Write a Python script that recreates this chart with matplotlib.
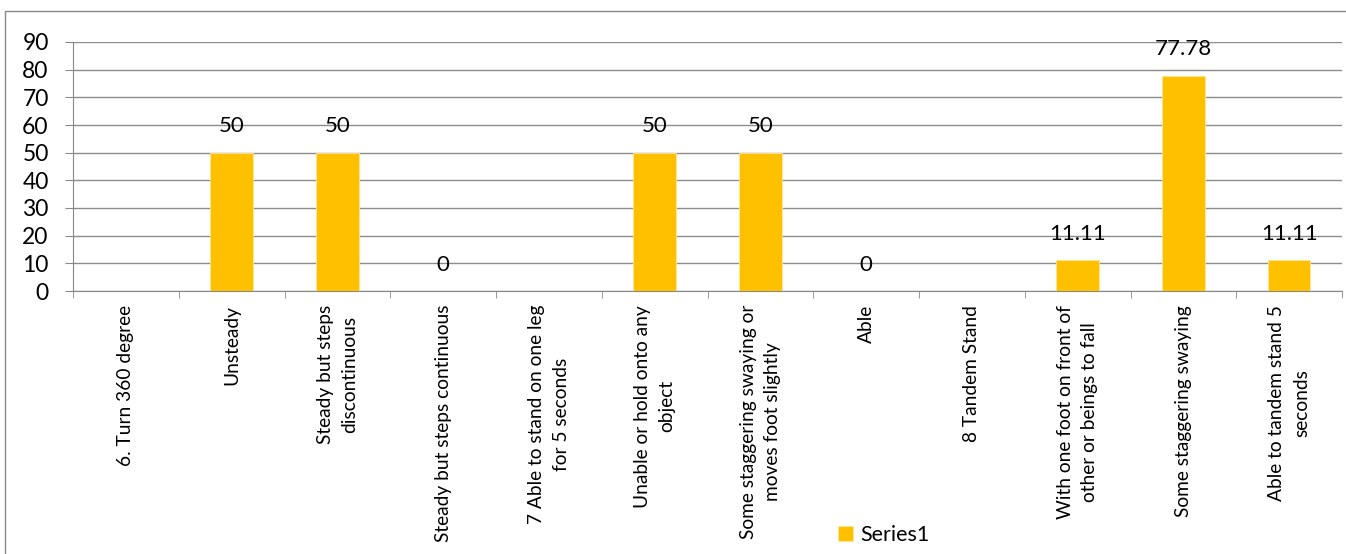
import matplotlib.pyplot as plt
import numpy as np
from matplotlib.patches import Rectangle

plt.rcParams['font.family'] = ['Lato', 'DejaVu Sans']

categories = [
    "6. Turn 360 degree",
    "Unsteady",
    "Steady but steps\ndiscontinuous",
    "Steady but steps continuous",
    "7 Able to stand on one leg\nfor 5 seconds",
    "Unable or hold onto any\nobject",
    "Some staggering swaying or\nmoves foot slightly",
    "Able",
    "8 Tandem Stand",
    "With one foot on front of\nother or beings to fall",
    "Some staggering swaying",
    "Able to tandem stand 5\nseconds",
]
# header rows have no value
values = [np.nan, 50, 50, 0, np.nan, 50, 50, 0, np.nan, 11.11, 77.78, 11.11]
yticks = [0, 10, 20, 30, 40, 50, 60, 70, 80, 90]

W, H = 1346, 554
fig = plt.figure(figsize=(W / 100, H / 100), dpi=100)
ax = fig.add_axes([73 / W, 1 - 291 / H, (1342 - 73) / W, (291 - 42) / H])

x = np.arange(len(categories))
bars = ax.bar(x, values, width=0.4, color='#FFC000', edgecolor='#FFE699',
              linewidth=0.6, label='Series1', zorder=3)

for xi, v in zip(x, values):
    if np.isnan(v):
        continue
    ax.annotate('%g' % v, (xi, v), xytext=(0, 19), textcoords='offset points',
                ha='center', va='center', fontsize=16)

ax.set_xlim(-0.5, len(categories) - 0.5)
ax.set_ylim(0, 90)
ax.set_yticks(yticks)
ax.tick_params(axis='y', labelsize=16.5, length=5.5, color='#888888', pad=12)
ax.grid(axis='y', color='#8c8c8c', linewidth=1, zorder=0)

ax.set_xticks(x)
ax.set_xticklabels(categories, rotation=90, ha='center', va='top',
                   fontsize=13.8, linespacing=1.55)
ax.tick_params(axis='x', length=0, pad=10)
ax.set_xticks(np.arange(len(categories) + 1) - 0.5, minor=True)
ax.tick_params(axis='x', which='minor', length=5, color='#888888')

for s in ['top', 'right']:
    ax.spines[s].set_visible(False)
ax.spines['left'].set_color('#888888')
ax.spines['bottom'].set_color('#888888')

fig.legend(handles=[bars], labels=['Series1'], loc='center left',
           bbox_to_anchor=(838 / W, 1 - 535 / H), frameon=False, fontsize=15.5,
           handlelength=0.7, handleheight=0.7, handletextpad=0.33,
           borderaxespad=0, borderpad=0)

# chart area border
fig.patches.append(Rectangle((4.5 / W, -0.1), 1.2, 1.1 - 11 / H,
                             transform=fig.transFigure, fill=False,
                             edgecolor='#888888', linewidth=1))

fig.savefig('out.png', dpi=100)
